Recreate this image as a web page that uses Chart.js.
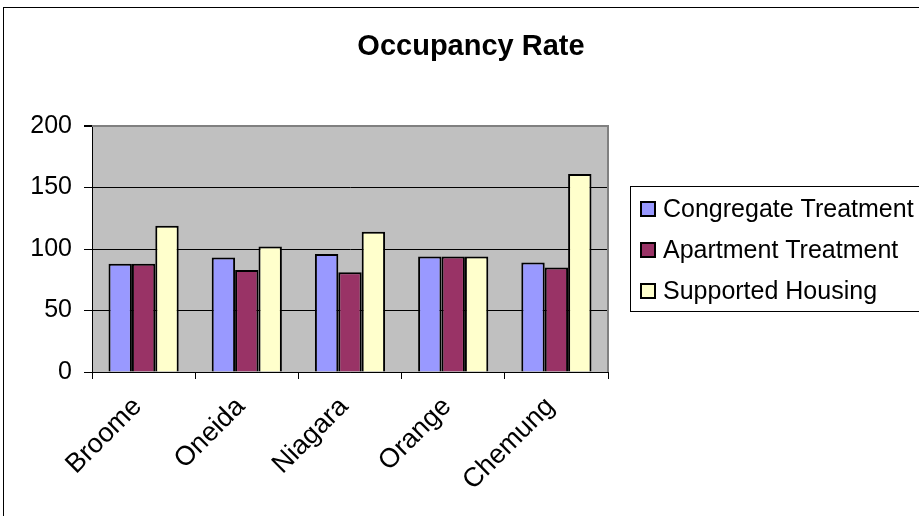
<!DOCTYPE html>
<html>
<head>
<meta charset="utf-8">
<title>Occupancy Rate</title>
<script src="https://cdn.jsdelivr.net/npm/chart.js@4.4.0/dist/chart.umd.min.js"></script>
<style>
  html, body { margin: 0; padding: 0; overflow: hidden; background: #fff; }
  canvas { display: block; }
</style>
</head>
<body>
<canvas id="occupancyChart" width="942" height="516"></canvas>
<script>
// Data
const chartTitle = 'Occupancy Rate';
const counties = ['Broome', 'Oneida', 'Niagara', 'Orange', 'Chemung'];
const seriesNames = ['Congregate Treatment', 'Apartment Treatment', 'Supported Housing'];
const congregateTreatment = [88, 93, 96, 94, 89];
const apartmentTreatment = [88, 83, 81, 94, 85];
const supportedHousing = [119, 102, 114, 94, 161];
const yTickValues = [0, 50, 100, 150, 200];

const seriesColors = ['#9999FF', '#993366', '#FFFFCC'];
const FONT = '"Liberation Sans", Arial, sans-serif';

// Frame, title, gray plot area and its gray top/right edge
const plotBackground = {
  id: 'plotBackground',
  beforeDraw(chart) {
    const { ctx, chartArea: a } = chart;
    ctx.save();
    ctx.fillStyle = '#fff';
    ctx.fillRect(0, 0, chart.width, chart.height);
    ctx.strokeStyle = '#000';
    ctx.lineWidth = 1;
    ctx.strokeRect(3.5, 7.5, 935, 530);
    ctx.fillStyle = '#C0C0C0';
    ctx.fillRect(a.left, a.top, a.right - a.left, a.bottom - a.top);
    // title centred on the whole frame, not only on the plot
    ctx.fillStyle = '#000';
    ctx.font = 'bold 29px ' + FONT;
    ctx.textAlign = 'center';
    ctx.textBaseline = 'middle';
    ctx.fillText(chartTitle, 471, 47);
    ctx.restore();
  },
  afterDatasetsDraw(chart) {
    const { ctx, chartArea: a } = chart;
    ctx.save();
    ctx.strokeStyle = '#808080';
    ctx.lineWidth = 2;
    ctx.beginPath();
    ctx.moveTo(a.left, a.top);
    ctx.lineTo(a.right, a.top);
    ctx.lineTo(a.right, a.bottom);
    ctx.stroke();
    ctx.restore();
  }
};

// Boxed legend on the right, like the spreadsheet one
const boxedLegend = {
  id: 'boxedLegend',
  afterDraw(chart) {
    const { ctx } = chart;
    ctx.save();
    ctx.strokeStyle = '#000';
    ctx.lineWidth = 1;
    ctx.strokeRect(630.5, 186.5, 300, 125);
    ctx.font = '25px ' + FONT;
    ctx.textBaseline = 'middle';
    ctx.textAlign = 'left';
    chart.data.datasets.forEach((ds, i) => {
      const y = 209 + i * 41;
      ctx.fillStyle = ds.backgroundColor;
      ctx.fillRect(641, y - 7, 14, 14);
      ctx.strokeStyle = '#000';
      ctx.lineWidth = 2;
      ctx.strokeRect(641, y - 7, 14, 14);
      ctx.fillStyle = '#000';
      ctx.fillText(ds.label, 663, y + 1);
    });
    ctx.restore();
  }
};

const ctx = document.getElementById('occupancyChart').getContext('2d');
new Chart(ctx, {
  type: 'bar',
  data: {
    labels: counties,
    datasets: [
      { label: seriesNames[0], data: congregateTreatment, backgroundColor: seriesColors[0] },
      { label: seriesNames[1], data: apartmentTreatment, backgroundColor: seriesColors[1] },
      { label: seriesNames[2], data: supportedHousing, backgroundColor: seriesColors[2] }
    ]
  },
  options: {
    responsive: false,
    animation: false,
    devicePixelRatio: 1,
    layout: { padding: { left: 0, top: 126, right: 334, bottom: 0 } },
    datasets: {
      bar: {
        categoryPercentage: 0.68,
        barPercentage: 1,
        borderColor: '#000',
        borderWidth: 2
      }
    },
    plugins: {
      legend: { display: false },
      tooltip: { enabled: false },
      title: { display: false }
    },
    scales: {
      x: {
        grid: {
          offset: true,
          drawOnChartArea: false,
          drawTicks: true,
          tickLength: 7,
          color: '#000'
        },
        border: { color: '#000', width: 1 },
        ticks: {
          color: '#000',
          font: { family: FONT, size: 27 },
          minRotation: 45,
          maxRotation: 45,
          padding: 12,
          labelOffset: -6
        },
        afterFit(scale) { scale.height = 144; }
      },
      y: {
        min: 0,
        max: 200,
        afterBuildTicks(scale) { scale.ticks = yTickValues.map(v => ({ value: v })); },
        grid: {
          color: c => (c.tick && c.tick.value === 200 ? '#808080' : '#000'),
          lineWidth: c => (c.tick && c.tick.value === 200 ? 2 : 1),
          tickColor: '#000',
          tickLength: 8
        },
        border: { color: '#000', width: 1 },
        ticks: {
          color: '#000',
          font: { family: FONT, size: 25 },
          padding: 12
        },
        afterFit(scale) { scale.width = 92; }
      }
    }
  },
  plugins: [plotBackground, boxedLegend]
});
</script>
</body>
</html>
